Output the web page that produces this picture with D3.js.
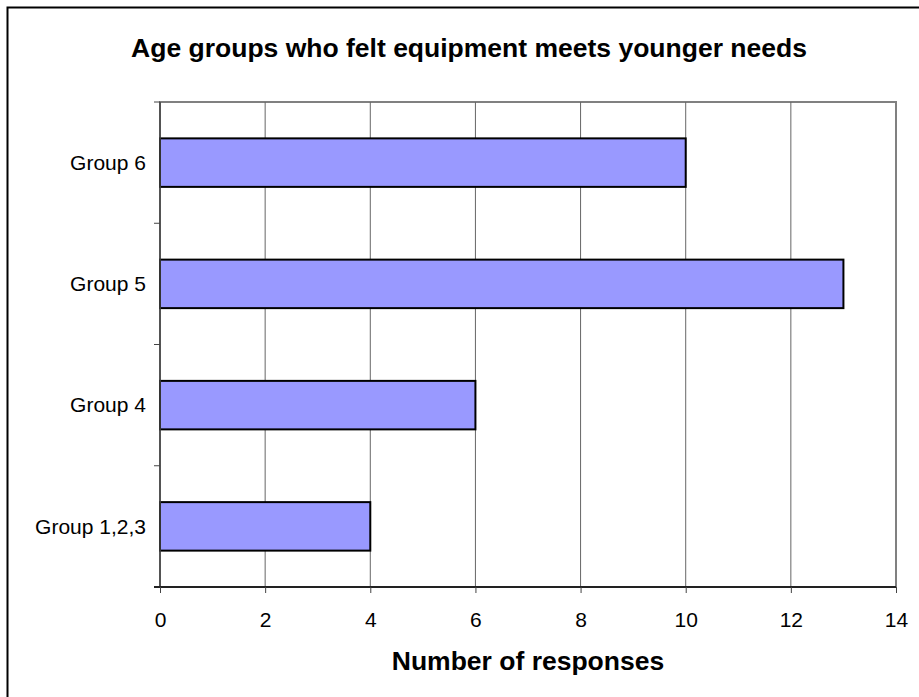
<!DOCTYPE html>
<html>
<head>
<meta charset="utf-8">
<script src="https://cdn.jsdelivr.net/npm/d3@7"></script>
<style>
  body { margin: 0; background: #fff; }
  text { font-family: "Liberation Sans", Arial, sans-serif; }
</style>
</head>
<body>
<svg id="drawing_region"></svg>
<script>
const categories = ["Group 6", "Group 5", "Group 4", "Group 1,2,3"];
const responses = [10, 13, 6, 4];
const xTicks = [0, 2, 4, 6, 8, 10, 12, 14];

const width = 919, height = 697;
const margin = {top: 102, right: 23, bottom: 110, left: 160};
const plotW = width - margin.left - margin.right;
const plotH = height - margin.top - margin.bottom;

const svg = d3.select('#drawing_region')
    .attr('width', width)
    .attr('height', height);

// outer frame (only top/left edges fall inside the picture)
svg.append('rect')
    .attr('x', 7.5).attr('y', 7.5)
    .attr('width', width + 10).attr('height', height + 10)
    .attr('fill', 'white')
    .attr('stroke', 'black')
    .attr('stroke-width', 2);

svg.append('text')
    .attr('x', 469)
    .attr('y', 57)
    .attr('text-anchor', 'middle')
    .style('font-size', '26.5px')
    .style('font-weight', 'bold')
    .text('Age groups who felt equipment meets younger needs');

const g = svg.append('g')
    .attr('transform', `translate(${margin.left}, ${margin.top})`);

const x = d3.scaleLinear().domain([0, 14]).range([0, plotW]);
const y = d3.scaleBand().domain(categories).range([0, plotH])
    .paddingInner(0.6).paddingOuter(0.3);
const yEdge = d3.scaleLinear().domain([0, categories.length]).range([0, plotH]);

// plot frame
g.append('rect')
    .attr('width', plotW).attr('height', plotH)
    .attr('fill', 'none')
    .attr('stroke', '#808080')
    .attr('stroke-width', 2);

// vertical grid
g.selectAll('.grid')
    .data(xTicks.slice(1, -1))
    .enter()
    .append('line')
    .attr('x1', d => x(d)).attr('x2', d => x(d))
    .attr('y1', 0).attr('y2', plotH)
    .attr('stroke', '#666')
    .attr('stroke-width', 1);

// bars
g.selectAll('.bar')
    .data(categories)
    .enter()
    .append('rect')
    .attr('x', x(0))
    .attr('y', d => y(d))
    .attr('width', (d, i) => x(responses[i]) - x(0))
    .attr('height', y.bandwidth())
    .attr('fill', '#9999FF')
    .attr('stroke', 'black')
    .attr('stroke-width', 2);

// y axis line + ticks at band edges
g.append('line')
    .attr('x1', 0).attr('x2', 0).attr('y1', 0).attr('y2', plotH)
    .attr('stroke', '#444').attr('stroke-width', 1.5);
g.selectAll('.ytick')
    .data(d3.range(categories.length + 1))
    .enter()
    .append('line')
    .attr('x1', -6).attr('x2', 0)
    .attr('y1', d => yEdge(d)).attr('y2', d => yEdge(d))
    .attr('stroke', '#444');

g.selectAll('.ylabel')
    .data(categories)
    .enter()
    .append('text')
    .attr('x', -14)
    .attr('y', d => y(d) + y.bandwidth() / 2)
    .attr('dy', '0.35em')
    .attr('text-anchor', 'end')
    .style('font-size', '21px')
    .text(d => d);

// x axis
const xAxis = g.append('g')
    .attr('transform', `translate(0, ${plotH})`)
    .call(d3.axisBottom(x).tickValues(xTicks).tickSize(6).tickPadding(19).tickSizeOuter(0));
xAxis.select('.domain').attr('stroke', '#222').attr('stroke-width', 2)
    .attr('d', `M-6,0H${plotW}`);
xAxis.selectAll('.tick line').attr('stroke', '#444');
xAxis.selectAll('.tick text')
    .style('font-size', '21px')
    .style('font-family', '"Liberation Sans", Arial, sans-serif')
    .attr('fill', 'black');

svg.append('text')
    .attr('x', margin.left + plotW / 2)
    .attr('y', 670)
    .attr('text-anchor', 'middle')
    .style('font-size', '26.5px')
    .style('font-weight', 'bold')
    .text('Number of responses');
</script>
</body>
</html>
